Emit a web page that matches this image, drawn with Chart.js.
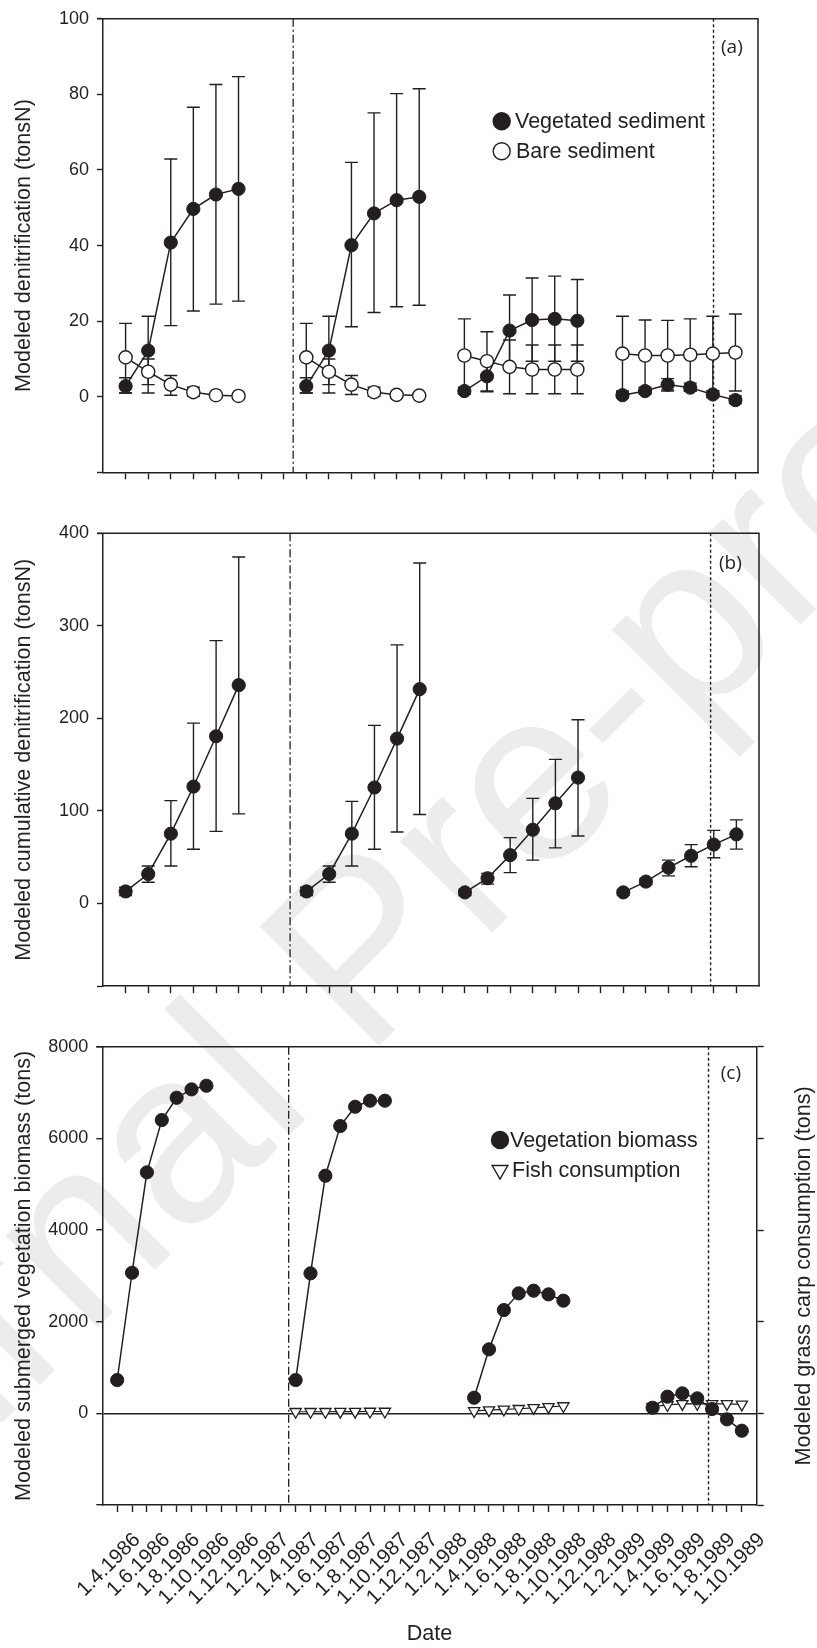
<!DOCTYPE html>
<html>
<head>
<meta charset="utf-8">
<script src="https://cdn.jsdelivr.net/npm/chart.js@4.4.1/dist/chart.umd.min.js"></script>
<style>
html,body{margin:0;padding:0;background:#fff;}
#wrap{position:relative;width:817px;height:1648px;overflow:hidden;background:#fff;}
canvas{position:absolute;left:0;}
</style>
</head>
<body>
<div id="wrap">
<canvas id="wm" width="817" height="1648" style="top:0px"></canvas>
<canvas id="cA" width="817" height="495" style="top:0px"></canvas>
<canvas id="cB" width="817" height="510" style="top:495px"></canvas>
<canvas id="cC" width="817" height="643" style="top:1005px"></canvas>
</div>
<script>
// ---------------- DATA ----------------
// Panels (a) and (b): 28 sampling slots (4 seasons x 6 samples, gaps = null)
const xTicksAB = [0,1,2,3,4,5,6,7,8,9,10,11,12,13,14,15,16,17,18,19,20,21,22,23,24,25,26,27];

// (a) Modeled denitrification (tonsN)
const vegA    = [2.8,12.2,40.8,49.7,53.5,55.0,null,null,2.8,12.2,40.1,48.5,52.0,52.9,null,1.5,5.4,17.5,20.3,20.6,20.1,null,0.4,1.5,3.2,2.4,0.6,-0.9];
const vegAHi  = [5.0,21.3,62.9,76.6,82.6,84.7,null,null,5.0,21.3,62.0,75.1,80.2,81.5,null,2.5,9.3,26.9,31.4,31.9,31.0,null,1.2,2.5,4.8,3.6,1.6,0.2];
const vegALo  = [1.0,1.0,18.8,22.7,24.5,25.3,null,null,1.0,1.0,18.5,22.3,23.8,24.2,null,0.8,1.5,8.1,9.4,9.4,9.4,null,-0.2,0.7,1.8,1.5,-0.2,-1.8];
const bareA   = [10.4,6.6,3.2,1.2,0.4,0.2,null,null,10.4,6.6,3.2,1.2,0.5,0.3,null,10.9,9.4,7.9,7.2,7.2,7.2,null,11.4,10.9,10.9,11.1,11.4,11.7];
const bareAHi = [19.4,10.0,5.6,2.5,0.9,0.5,null,null,19.4,10.0,5.6,2.5,1.0,0.6,null,20.6,17.2,15.0,13.7,13.7,13.7,null,21.3,20.3,20.2,20.6,21.3,21.9];
const bareALo = [1.0,3.2,0.4,0.1,0.0,0.0,null,null,1.0,3.2,0.6,0.1,0.0,0.0,null,0.8,1.3,0.8,0.8,0.8,0.8,null,1.5,1.5,1.5,1.5,1.5,1.5];
const yTicksA = [-20,0,20,40,60,80,100];

// (b) Modeled cumulative denitrification (tonsN)
const cumB   = [12.5,31.4,75.0,126.0,180.4,235.7,null,null,12.5,31.4,75.0,125.0,177.9,231.4,null,11.5,26.8,51.8,79.3,107.9,135.7,null,11.5,23.2,38.2,51.1,63.2,74.3];
const cumBHi = [17,40.0,110.8,194.6,283.9,374.4,null,null,17,40.0,110.0,192.2,279.3,367.9,null,15,32.1,70.7,113.2,155.4,198.2,null,14.5,26.5,46.4,63.2,78.6,90.0];
const cumBLo = [8,22.5,40.0,58.2,77.5,96.4,null,null,8,22.5,40.0,58.2,76.8,95.8,null,8,20.4,32.9,46.4,59.7,72.5,null,8.5,20,29.4,39.3,49.0,58.3];
const yTicksB = [-90,0,100,200,300,400];

// (c) monthly axis from 1.4.1986 (slot 0) to 1.10.1989 (slot 42)
const monthTicksC = [0,1,2,3,4,5,6,7,8,9,10,11,12,13,14,15,16,17,18,19,20,21,22,23,24,25,26,27,28,29,30,31,32,33,34,35,36,37,38,39,40,41,42];
const dateLabels = ['1.4.1986','1.6.1986','1.8.1986','1.10.1986','1.12.1986','1.2.1987','1.4.1987','1.6.1987','1.8.1987','1.10.1987','1.12.1987','1.2.1988','1.4.1988','1.6.1988','1.8.1988','1.10.1988','1.12.1988','1.2.1989','1.4.1989','1.6.1989','1.8.1989','1.10.1989'];
const bioC  = [727,3068,5258,6400,6886,7069,7148,null,null,null,null,null,727,3055,5185,6269,6690,6822,6822,null,null,null,null,null,341,1396,2254,2618,2676,2596,2458,null,null,null,null,null,122,363,436,327,94,-131,-379];
const fishC = [null,null,null,null,null,null,null,null,null,null,null,null,35,35,35,38,38,40,40,null,null,null,null,null,52,70,85,100,120,140,160,null,null,null,null,null,148,183,205,210,205,205,195];
const yTicksC = [-2000,0,2000,4000,6000,8000];

// reference lines (x positions on each panel's own axis)
const phaseLineAB = [7.42, 7.27];
const endLineAB   = [26.03, 25.86];
const phaseLineC  = 11.53;
const endLineC    = 39.76;

// ---------------- STYLE ----------------
const INK = '#231f20';
const FONT = "'Liberation Sans', Arial, Helvetica, sans-serif";
Chart.defaults.font.family = FONT;
Chart.defaults.color = INK;
Chart.defaults.animation = false;

const toXY = arr => arr.map((v, i) => ({x: i, y: v}));

// watermark of the source page
(function(){
  const c = document.getElementById('wm').getContext('2d');
  const F = 245;
  c.save();
  c.translate(360, 940);
  c.rotate(-45 * Math.PI / 180);
  c.font = F + "px 'Liberation Sans', Arial, sans-serif";
  c.fillStyle = '#ececec';
  c.textAlign = 'left';
  c.textBaseline = 'alphabetic';
  c.fillText('Journal Pre-proof', -3.89 * F, 0.36 * F);
  c.restore();
})();

const decor = {
  id: 'decor',
  beforeDatasetsDraw(chart, args, o) {
    const {ctx, chartArea: a, scales} = chart;
    const xs = scales.x;
    ctx.save();
    ctx.strokeStyle = INK;
    (o.vlines || []).forEach(v => {
      const px = xs.getPixelForValue(v.x);
      ctx.beginPath();
      ctx.setLineDash(v.dash);
      ctx.lineWidth = v.width;
      ctx.moveTo(px, a.top);
      ctx.lineTo(px, a.bottom);
      ctx.stroke();
    });
    ctx.setLineDash([]);
    chart.data.datasets.forEach(ds => {
      if (!ds.errLo) return;
      const sc = scales[ds.yAxisID || 'y'];
      ctx.lineWidth = 1.4;
      ds.data.forEach((p, i) => {
        if (p.y == null || ds.errLo[i] == null) return;
        const px = xs.getPixelForValue(p.x);
        const y1 = sc.getPixelForValue(ds.errLo[i]);
        const y2 = sc.getPixelForValue(ds.errHi[i]);
        ctx.beginPath();
        ctx.moveTo(px, y1); ctx.lineTo(px, y2);
        ctx.moveTo(px - 6.5, y1); ctx.lineTo(px + 6.5, y1);
        ctx.moveTo(px - 6.5, y2); ctx.lineTo(px + 6.5, y2);
        ctx.stroke();
      });
    });
    ctx.restore();
  },
  afterDraw(chart, args, o) {
    const {ctx, chartArea: a} = chart;
    ctx.save();
    ctx.strokeStyle = INK;
    ctx.lineWidth = 1.5;
    ctx.beginPath();
    ctx.moveTo(a.left - 6, a.top);
    ctx.lineTo(a.right, a.top);
    if (o.rightLine) ctx.lineTo(a.right, a.bottom);
    ctx.stroke();
    // panel tag
    ctx.fillStyle = INK;
    ctx.font = "19px 'Open Sans', sans-serif";
    ctx.textBaseline = 'alphabetic';
    ctx.textAlign = 'left';
    ctx.fillText(o.tag, a.right + o.tagDx, a.top + o.tagDy);
    // legend
    (o.legend || []).forEach(L => {
      const mx = a.left + L.dx, my = a.top + L.dy;
      ctx.lineWidth = 1.4;
      ctx.beginPath();
      if (L.style === 'tri') {
        const r = 9;
        ctx.moveTo(mx - r * 0.866, my - r * 0.5);
        ctx.lineTo(mx + r * 0.866, my - r * 0.5);
        ctx.lineTo(mx, my + r);
        ctx.closePath();
        ctx.fillStyle = '#fff'; ctx.fill(); ctx.stroke();
      } else {
        ctx.arc(mx, my, 8.5, 0, Math.PI * 2);
        ctx.fillStyle = L.style === 'filled' ? INK : '#fff';
        ctx.fill(); ctx.stroke();
      }
      ctx.fillStyle = INK;
      ctx.font = '21.5px ' + FONT;
      ctx.fillText(L.label, a.left + L.tx, a.top + L.ty);
    });
    // right-hand axis title (reads bottom-to-top like the left one)
    if (o.rightTitle) {
      ctx.save();
      ctx.translate(o.rightTitleX, (a.top + a.bottom) / 2);
      ctx.rotate(-Math.PI / 2);
      ctx.font = '21.6px ' + FONT;
      ctx.textAlign = 'center';
      ctx.textBaseline = 'middle';
      ctx.fillStyle = INK;
      ctx.fillText(o.rightTitle, 0, 0);
      ctx.restore();
    }
    ctx.restore();
  }
};

const lineDs = (label, data, filled, extra) => Object.assign({
  label, data, borderColor: INK, borderWidth: 1.5, tension: 0, spanGaps: false,
  pointRadius: 6.6, pointHoverRadius: 6.6,
  pointBackgroundColor: filled ? INK : '#fff', pointBorderColor: INK, pointBorderWidth: filled ? 1 : 1.4
}, extra || {});

const axisBorder = {display: true, color: INK, width: 1.5};
const yAxisCommon = (min, max, ticksArr, title, hideFirst) => ({
  type: 'linear', min, max,
  afterBuildTicks: s => { s.ticks = ticksArr.map(v => ({value: v})); },
  ticks: {font: {size: 18}, padding: 8, color: INK, autoSkip: false,
          callback: v => (hideFirst && v === ticksArr[0]) ? '' : String(v)},
  grid: {drawOnChartArea: false, tickLength: 6, tickColor: INK, tickWidth: 1.4},
  border: axisBorder,
  title: {display: true, text: title, font: {size: 21.6}, color: INK, padding: {top: 11, bottom: 0}},
  afterFit: s => { s.width = 103; }
});
const xAxisAB = {
  type: 'linear', min: -1, max: 28,
  afterBuildTicks: s => { s.ticks = xTicksAB.map(v => ({value: v})); },
  ticks: {autoSkip: false, callback: () => ''},
  grid: {drawOnChartArea: false, tickLength: 7, tickColor: INK, tickWidth: 1.4},
  border: axisBorder,
  afterFit: s => { s.height = 15; }
};

// ---------- Panel (a) ----------
new Chart(document.getElementById('cA'), {
  type: 'line',
  data: {datasets: [
    lineDs('Vegetated sediment', toXY(vegA), true, {errLo: vegALo, errHi: vegAHi}),
    lineDs('Bare sediment', toXY(bareA), false, {errLo: bareALo, errHi: bareAHi})
  ]},
  options: {
    responsive: false, animation: false,
    layout: {padding: {top: 14.3, right: 59, bottom: 7.7, left: 0}},
    plugins: {
      legend: {display: false}, tooltip: {enabled: false},
      decor: {
        rightLine: true, tag: '(a)', tagDx: -37, tagDy: 34.5,
        vlines: [{x: phaseLineAB[0], dash: [8, 3, 2, 3], width: 1.3}, {x: endLineAB[0], dash: [3, 2.5], width: 1.4}],
        legend: [
          {label: 'Vegetated sediment', style: 'filled', dx: 398.7, dy: 102.4, tx: 412, ty: 109.2},
          {label: 'Bare sediment', style: 'open', dx: 398.7, dy: 132.4, tx: 413, ty: 138.7}
        ]
      }
    },
    scales: {
      x: xAxisAB,
      y: yAxisCommon(-20, 100, yTicksA, 'Modeled denitrification (tonsN)', true)
    }
  },
  plugins: [decor]
});

// ---------- Panel (b) ----------
new Chart(document.getElementById('cB'), {
  type: 'line',
  data: {datasets: [
    lineDs('Vegetated sediment (cumulative)', toXY(cumB), true, {errLo: cumBLo, errHi: cumBHi})
  ]},
  options: {
    responsive: false, animation: false,
    layout: {padding: {top: 38.3, right: 58, bottom: 0, left: 0}},
    plugins: {
      legend: {display: false}, tooltip: {enabled: false},
      decor: {
        rightLine: true, tag: '(b)', tagDx: -40, tagDy: 35.5,
        vlines: [{x: phaseLineAB[1], dash: [8, 3, 2, 3], width: 1.3}, {x: endLineAB[1], dash: [3, 2.5], width: 1.4}]
      }
    },
    scales: {
      x: Object.assign({}, xAxisAB, {afterFit: s => { s.height = 14.3; }}),
      y: yAxisCommon(-90, 400, yTicksB, 'Modeled cumulative denitrification (tonsN)', true)
    }
  },
  plugins: [decor]
});

// ---------- Panel (c) ----------
const yC = yAxisCommon(-2000, 8000, yTicksC, 'Modeled submerged vegetation biomass (tons)', true);
yC.grid = {drawOnChartArea: true, tickLength: 6, tickColor: INK, tickWidth: 1.4, lineWidth: 1.4,
           color: c => (c.tick && c.tick.value === 0) ? INK : 'rgba(0,0,0,0)'};
yC.afterFit = s => { s.width = 102.3; };

new Chart(document.getElementById('cC'), {
  type: 'line',
  data: {datasets: [
    lineDs('Vegetation biomass', toXY(bioC), true),
    lineDs('Fish consumption', toXY(fishC), false, {yAxisID: 'y2', pointStyle: 'triangle', rotation: 180, pointRadius: 6.5, pointBorderWidth: 1.3, borderWidth: 1.2})
  ]},
  options: {
    responsive: false, animation: false,
    layout: {padding: {top: 41.7, right: 0, bottom: 0, left: 0}},
    plugins: {
      legend: {display: false}, tooltip: {enabled: false},
      decor: {
        rightLine: false, tag: '(c)', tagDx: -36, tagDy: 32,
        vlines: [{x: phaseLineC, dash: [8, 3, 2, 3], width: 1.3}, {x: endLineC, dash: [3, 2.5], width: 1.4}],
        legend: [
          {label: 'Vegetation biomass', style: 'filled', dx: 397.7, dy: 93.3, tx: 407.7, ty: 100},
          {label: 'Fish consumption', style: 'tri', dx: 397.7, dy: 123.3, tx: 409.7, ty: 130}
        ],
        rightTitle: 'Modeled grass carp consumption (tons)', rightTitleX: 804
      }
    },
    scales: {
      x: {
        type: 'linear', min: -1, max: 43,
        afterBuildTicks: s => { s.ticks = monthTicksC.map(v => ({value: v})); },
        ticks: {autoSkip: false, maxRotation: 45, minRotation: 45, labelOffset: 20, padding: 16,
                font: {size: 20.5}, color: INK,
                callback: v => (v % 2 === 0) ? dateLabels[v / 2] : ''},
        grid: {drawOnChartArea: false, tickLength: 7, tickColor: INK, tickWidth: 1.4},
        border: axisBorder,
        title: {display: true, text: 'Date', font: {size: 21.6}, color: INK, padding: {top: 0, bottom: 1}},
        afterFit: s => { s.height = 143; }
      },
      y: yC,
      y2: {
        type: 'linear', position: 'right', min: -2000, max: 8000,
        afterBuildTicks: s => { s.ticks = yTicksC.map(v => ({value: v})); },
        ticks: {callback: () => ''},
        grid: {drawOnChartArea: false, tickLength: 7, tickColor: INK, tickWidth: 1.4},
        border: axisBorder,
        afterFit: s => { s.width = 60.3; }
      }
    }
  },
  plugins: [decor]
});
</script>
</body>
</html>
